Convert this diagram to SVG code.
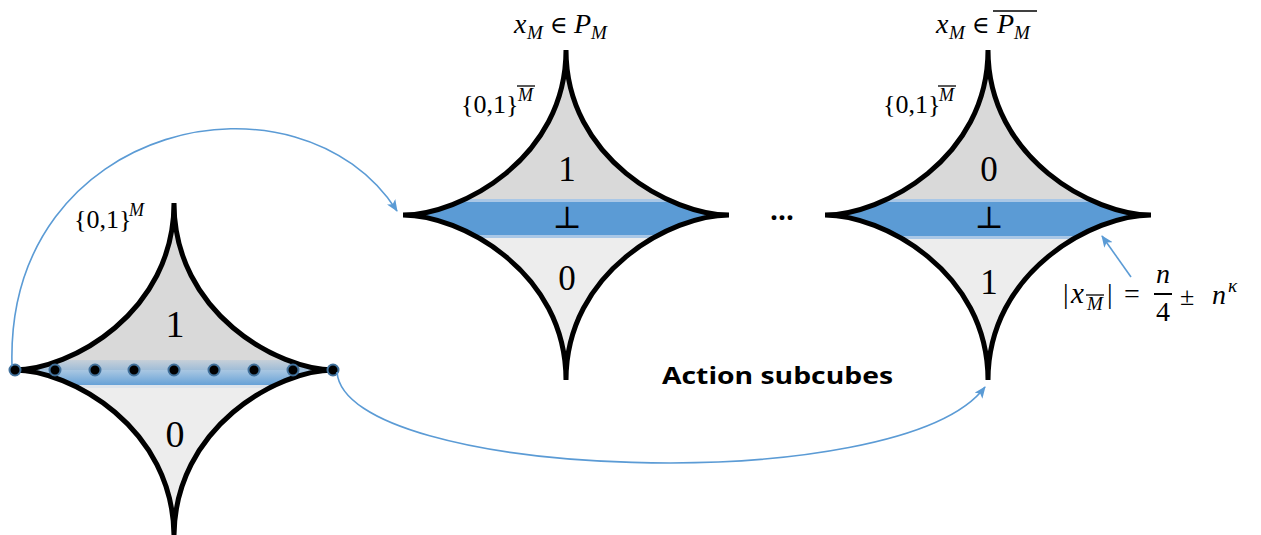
<svg xmlns="http://www.w3.org/2000/svg" width="1261" height="535" viewBox="0 0 1261 535">
<style>
.outline{fill:none;stroke:#000;stroke-width:5;stroke-linejoin:miter;stroke-miterlimit:2}
.up{fill:#d9d9d9}
.lo{fill:#ededed}
.band{fill:#5b9bd5}
.bandedge{fill:#a9c7e6}
.math{font-family:"Liberation Serif","DejaVu Serif",serif;fill:#000}
.it{font-style:italic}
.ov{stroke:#000;stroke-width:1.3}
.conn{fill:none;stroke:#5b9bd5;stroke-width:1.6}
.dot{fill:#000;stroke:#41719c;stroke-width:2}
.title{font-family:"Open Sans","Liberation Sans",sans-serif;font-weight:bold;fill:#000}
</style>
<defs>
<clipPath id="c1"><path d="M174,203 C174,313 278,370 334,370 C278,370 174,427 174,537 C174,427 70,370 14,370 C70,370 174,313 174,203 Z"/></clipPath>
<clipPath id="c2"><path d="M566,50 C566,159 672,215 729,215 C672,215 566,271 566,380 C566,271 460,215 403,215 C460,215 566,159 566,50 Z"/></clipPath>
<clipPath id="c3"><path d="M988,50 C988,159 1094,215 1151,215 C1094,215 988,271 988,380 C988,271 882,215 825,215 C882,215 988,159 988,50 Z"/></clipPath>
<linearGradient id="g1" x1="0" y1="0" x2="0" y2="1">
<stop offset="0" stop-color="#5b9bd5" stop-opacity="0.15"/>
<stop offset="1" stop-color="#5b9bd5" stop-opacity="0.95"/>
</linearGradient>
<marker id="arr" viewBox="0 0 12 10" refX="11" refY="5" markerWidth="12" markerHeight="10" markerUnits="userSpaceOnUse" orient="auto">
<path d="M0,0 L12,5 L0,10 L3,5 Z" fill="#5b9bd5"/>
</marker>
</defs>

<g id="cube-left">
<g clip-path="url(#c1)">
<rect class="up" x="0" y="200" width="340" height="170"/>
<rect class="lo" x="0" y="370" width="340" height="170"/>
<rect x="0" y="360" width="340" height="26" fill="url(#g1)"/>
<rect x="0" y="385" width="340" height="3" fill="#dde4ec"/>
</g>
<path class="outline" d="M174,203 C174,313 278,370 334,370 C278,370 174,427 174,537 C174,427 70,370 14,370 C70,370 174,313 174,203 Z"/>
<g>
<circle class="dot" cx="15" cy="370" r="5.5"/>
<circle class="dot" cx="55" cy="370" r="5.5"/>
<circle class="dot" cx="95" cy="370" r="5.5"/>
<circle class="dot" cx="134" cy="370" r="5.5"/>
<circle class="dot" cx="174" cy="370" r="5.5"/>
<circle class="dot" cx="214" cy="370" r="5.5"/>
<circle class="dot" cx="254" cy="370" r="5.5"/>
<circle class="dot" cx="293" cy="370" r="5.5"/>
<circle class="dot" cx="333" cy="370" r="5.5"/>
</g>
<text class="math" x="175" y="337" font-size="38" text-anchor="middle">1</text>
<text class="math" x="175" y="447" font-size="38" text-anchor="middle">0</text>
<text class="math" x="74" y="228" font-size="26">{0,1}</text>
<text class="math it" x="129" y="216" font-size="18">M</text>
</g>

<g id="cube-middle">
<g clip-path="url(#c2)">
<rect class="up" x="400" y="45" width="335" height="170"/>
<rect class="lo" x="400" y="215" width="335" height="170"/>
<rect class="bandedge" x="400" y="199" width="335" height="39"/>
<rect class="band" x="400" y="202" width="335" height="33"/>
</g>
<path class="outline" d="M566,50 C566,159 672,215 729,215 C672,215 566,271 566,380 C566,271 460,215 403,215 C460,215 566,159 566,50 Z"/>
<text class="math" x="567" y="181" font-size="35" text-anchor="middle">1</text>
<text class="math" x="567" y="228" font-size="31" text-anchor="middle">⊥</text>
<text class="math" x="567" y="290" font-size="35" text-anchor="middle">0</text>
<text class="math" x="461" y="113" font-size="26">{0,1}</text>
<text class="math it" x="518" y="101" font-size="18">M</text>
<line class="ov" x1="517" y1="86" x2="535" y2="86"/>
<text class="math it" x="514" y="33" font-size="28">x</text>
<text class="math it" x="527" y="39" font-size="19">M</text>
<text class="math" x="550" y="33" font-size="24">∈</text>
<text class="math it" x="574" y="33" font-size="28">P</text>
<text class="math it" x="591" y="39" font-size="19">M</text>
</g>

<g id="cube-right">
<g clip-path="url(#c3)">
<rect class="up" x="820" y="45" width="335" height="170"/>
<rect class="lo" x="820" y="215" width="335" height="170"/>
<rect class="bandedge" x="820" y="199" width="335" height="40"/>
<rect class="band" x="820" y="202" width="335" height="34"/>
</g>
<path class="outline" d="M988,50 C988,159 1094,215 1151,215 C1094,215 988,271 988,380 C988,271 882,215 825,215 C882,215 988,159 988,50 Z"/>
<text class="math" x="989" y="181" font-size="35" text-anchor="middle">0</text>
<text class="math" x="989" y="228" font-size="31" text-anchor="middle">⊥</text>
<text class="math" x="989" y="294" font-size="35" text-anchor="middle">1</text>
<text class="math" x="883" y="113" font-size="26">{0,1}</text>
<text class="math it" x="939" y="101" font-size="18">M</text>
<line class="ov" x1="938" y1="86" x2="956" y2="86"/>
<text class="math it" x="936" y="33" font-size="28">x</text>
<text class="math it" x="949" y="39" font-size="19">M</text>
<text class="math" x="972" y="33" font-size="24">∈</text>
<text class="math it" x="997" y="33" font-size="28">P</text>
<text class="math it" x="1014" y="39" font-size="19">M</text>
<line class="ov" x1="993" y1="11" x2="1037" y2="11"/>
</g>

<g id="annotation">
<text class="math" x="1063" y="303" font-size="28">|</text>
<text class="math it" x="1071" y="303" font-size="29">x</text>
<text class="math it" x="1087" y="310" font-size="19">M</text>
<line class="ov" x1="1086" y1="295" x2="1104" y2="295"/>
<text class="math" x="1107" y="303" font-size="28">|</text>
<text class="math" x="1124" y="303" font-size="28">=</text>
<text class="math it" x="1163" y="283" font-size="28" text-anchor="middle">n</text>
<line x1="1154" y1="294" x2="1172" y2="294" stroke="#000" stroke-width="2"/>
<text class="math" x="1163" y="321" font-size="28" text-anchor="middle">4</text>
<text class="math" x="1180" y="305" font-size="26">±</text>
<text class="math it" x="1212" y="304" font-size="28">n</text>
<text class="math it" x="1228" y="292" font-size="19">κ</text>
</g>

<g id="labels">
<text class="title" x="782" y="220" font-size="28" text-anchor="middle">…</text>
<text class="title" x="662" y="384" font-size="23" textLength="231" lengthAdjust="spacingAndGlyphs">Action subcubes</text>
</g>

<g id="connectors">
<path class="conn" d="M12,366 C5,120 300,60 397,211" marker-end="url(#arr)"/>
<path class="conn" d="M337,372 C345,480 900,500 985,387" marker-end="url(#arr)"/>
<path class="conn" d="M1131,277 L1102,236" marker-end="url(#arr)"/>
</g>
</svg>
